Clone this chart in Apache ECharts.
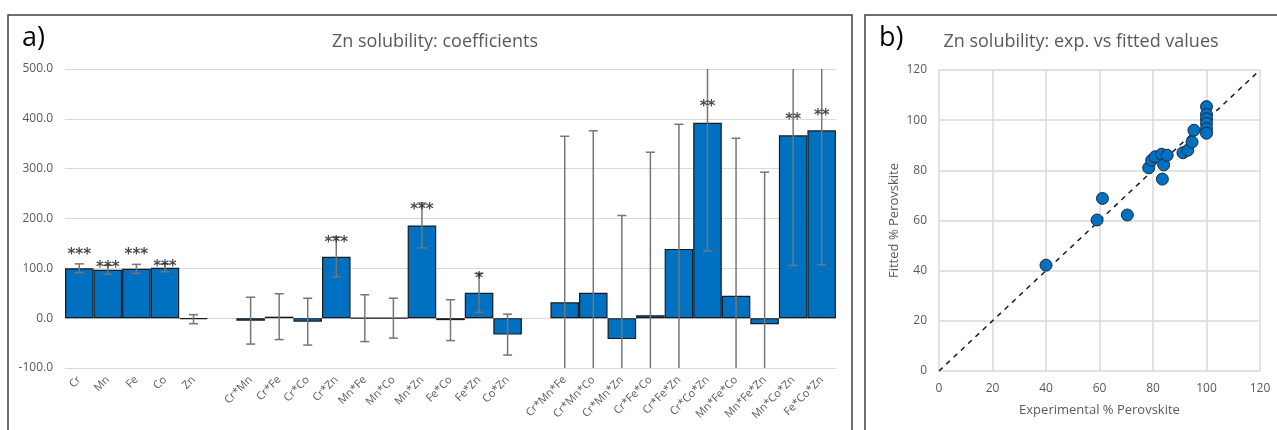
<!DOCTYPE html>
<html>
<head>
<meta charset="utf-8">
<script src="https://cdn.jsdelivr.net/npm/echarts@6/dist/echarts.min.js"></script>
<style>
  html, body { margin: 0; padding: 0; background: #fff; }
  #chart { width: 1277px; height: 430px; }
</style>
</head>
<body>
<div id="chart"></div>
<script>
// a) coefficients (empty strings are the spacer slots between groups)
var terms = ['Cr', 'Mn', 'Fe', 'Co', 'Zn', '',
  'Cr*Mn', 'Cr*Fe', 'Cr*Co', 'Cr*Zn', 'Mn*Fe', 'Mn*Co', 'Mn*Zn', 'Fe*Co', 'Fe*Zn', 'Co*Zn', '',
  'Cr*Mn*Fe', 'Cr*Mn*Co', 'Cr*Mn*Zn', 'Cr*Fe*Co', 'Cr*Fe*Zn', 'Cr*Co*Zn', 'Mn*Fe*Co', 'Mn*Fe*Zn', 'Mn*Co*Zn', 'Fe*Co*Zn']
var coef = [100, 97, 99, 101, -2, null,
  -5, 3, -7, 123, 0, 0, 186, -4, 51, -33, null,
  32, 51, -42, 6, 139, 392, 45, -12, 367, 377]
var coefErr = [9, 9, 9, 8, 9, null,
  47, 46, 47, 40, 47, 40, 45, 41, 39, 41, null,
  333, 325, 248, 327, 250, 257, 316, 305, 261, 270]
var signif = ['***', '***', '***', '***', '', '',
  '', '', '', '***', '', '', '***', '', '*', '', '',
  '', '', '', '', '', '**', '', '', '**', '**']
var signifAt = [135, 108, 134, 111, null, null,
  null, null, null, 158, null, null, 224, null, 86, null, null,
  null, null, null, null, null, 431, null, null, 405, 414]

// b) experimental vs fitted
var experimental = [40, 59.1, 61.1, 70.4, 78.4, 79.5, 80.8, 83.2, 84.0, 83.5, 85.3, 91.2, 93.0, 94.6, 95.3,
  100, 100, 100, 100, 100, 100]
var fitted = [42.2, 60.2, 68.8, 62.2, 81.0, 84.0, 85.4, 86.4, 82.2, 76.5, 86.0, 87.0, 88.0, 91.3, 96.0,
  105.4, 102.3, 100.5, 98.7, 96.6, 94.8]
var parity = [[0, 0], [120, 120]]

var gray = '#595959'
var gridGray = '#d9d9d9'
var blue = '#0070c0'

var chart = echarts.init(document.getElementById('chart'))

function errorBar(params, api) {
  var v = api.value(1)
  var e = api.value(2)
  if (e == null || isNaN(e)) return
  var cs = params.coordSys
  var x = api.coord([api.value(0), v])[0]
  var hi = api.coord([api.value(0), v + e])[1]
  var lo = api.coord([api.value(0), v - e])[1]
  var top = cs.y
  var bot = cs.y + cs.height
  var children = []
  var y1 = Math.max(hi, top)
  var y2 = Math.min(lo, bot)
  var style = { stroke: '#767676', lineWidth: 1.5 }
  children.push({ type: 'line', shape: { x1: x, y1: y1, x2: x, y2: y2 }, style: style })
  if (hi >= top) children.push({ type: 'line', shape: { x1: x - 4.5, y1: hi, x2: x + 4.5, y2: hi }, style: style })
  if (lo <= bot) children.push({ type: 'line', shape: { x1: x - 4.5, y1: lo, x2: x + 4.5, y2: lo }, style: style })
  return { type: 'group', children: children }
}

var errData = terms.map(function(t, i) { return [i, coef[i], coefErr[i]] })
var starData = []
terms.forEach(function(t, i) {
  if (signif[i]) starData.push({ value: [i, signifAt[i]], stars: signif[i] })
})
var scatterData = experimental.map(function(x, i) { return [x, fitted[i]] })

chart.setOption({
  animation: false,
  textStyle: { fontFamily: 'Open Sans, Noto Sans, sans-serif' },
  title: [
    { text: 'a)', left: 17, top: 20, textStyle: { fontSize: 27, fontWeight: 'normal', color: '#000' } },
    { text: 'Zn solubility: coefficients', left: 430, top: 28, textAlign: 'center',
      textStyle: { fontSize: 18, fontWeight: 'normal', color: gray } },
    { text: 'b)', left: 874, top: 20, textStyle: { fontSize: 27, fontWeight: 'normal', color: '#000' } },
    { text: 'Zn solubility: exp. vs fitted values', left: 1076, top: 28, textAlign: 'center',
      textStyle: { fontSize: 18, fontWeight: 'normal', color: gray } }
  ],
  graphic: [
    { type: 'rect', shape: { x: 8, y: 15, width: 844, height: 430 }, style: { fill: 'none', stroke: '#404040', lineWidth: 1.5 } },
    { type: 'rect', shape: { x: 865, y: 15, width: 430, height: 430 }, style: { fill: 'none', stroke: '#404040', lineWidth: 1.5 } }
  ],
  grid: [
    { left: 65, right: 441, top: 69, bottom: 62 },
    { left: 939, right: 17, top: 70, bottom: 59 }
  ],
  xAxis: [
    {
      gridIndex: 0, type: 'category', data: terms,
      axisLine: { show: false }, axisTick: { show: false },
      axisLabel: { interval: 0, rotate: 45, color: gray, fontSize: 11, margin: 10 }
    },
    {
      gridIndex: 1, type: 'value', min: 0, max: 120, interval: 20,
      name: 'Experimental % Perovskite', nameLocation: 'middle', nameGap: 33,
      nameTextStyle: { color: gray, fontSize: 13 },
      axisLine: { show: false }, axisTick: { show: false },
      axisLabel: { color: gray, fontSize: 12, margin: 12 },
      splitLine: { lineStyle: { color: gridGray, width: 1.5 } }
    }
  ],
  yAxis: [
    {
      gridIndex: 0, type: 'value', min: -100, max: 500, interval: 100,
      axisLine: { show: false }, axisTick: { show: false },
      axisLabel: { color: gray, fontSize: 12, margin: 12, formatter: function(v) { return v.toFixed(1) } },
      splitLine: { lineStyle: { color: gridGray, width: 1.2 } }
    },
    {
      gridIndex: 1, type: 'value', min: 0, max: 120, interval: 20,
      name: 'Fitted % Perovskite', nameLocation: 'middle', nameGap: 38,
      nameTextStyle: { color: gray, fontSize: 13 },
      axisLine: { show: false }, axisTick: { show: false },
      axisLabel: { color: gray, fontSize: 12, margin: 12 },
      splitLine: { lineStyle: { color: gridGray, width: 1.5 } }
    }
  ],
  series: [
    {
      type: 'bar', xAxisIndex: 0, yAxisIndex: 0, data: coef,
      barCategoryGap: 0, barGap: 0,
      itemStyle: { color: blue, borderColor: '#1a1a1a', borderWidth: 1.2 }
    },
    {
      type: 'custom', xAxisIndex: 0, yAxisIndex: 0, data: errData,
      renderItem: errorBar, z: 5
    },
    {
      type: 'scatter', xAxisIndex: 0, yAxisIndex: 0, data: starData,
      symbolSize: 0, z: 6,
      label: { show: true, position: 'inside', color: '#1a1a1a', fontSize: 15, fontWeight: 'bold',
        fontFamily: 'DejaVu Sans', offset: [0, 4], formatter: function(p) { return p.data.stars } }
    },
    {
      type: 'line', xAxisIndex: 1, yAxisIndex: 1, data: parity,
      symbol: 'none', z: 2,
      lineStyle: { color: '#1a1a1a', width: 1.5, type: [5, 5] }
    },
    {
      type: 'scatter', xAxisIndex: 1, yAxisIndex: 1, data: scatterData,
      symbolSize: 12, z: 3,
      itemStyle: { color: blue, borderColor: '#1c2b3a', borderWidth: 1, opacity: 1 }
    }
  ]
})
</script>
</body>
</html>
